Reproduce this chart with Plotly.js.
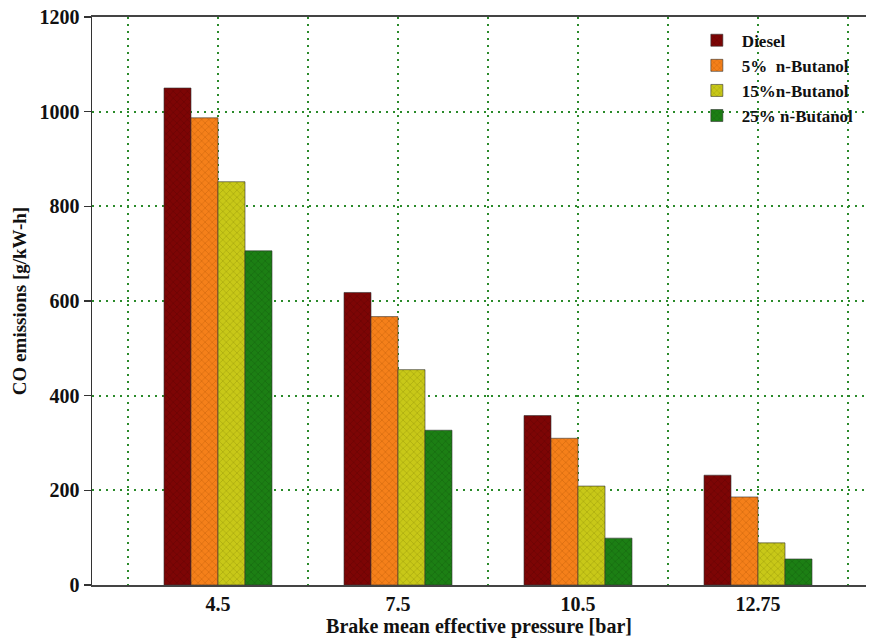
<!DOCTYPE html>
<html>
<head>
<meta charset="utf-8">
<script src="https://cdn.plot.ly/plotly-3.0.1.min.js"></script>
<style>html,body{margin:0;padding:0;background:#fff;}#chart{width:874px;height:644px;}</style>
</head>
<body>
<div id="chart"></div>
<script>
const categories = ["4.5", "7.5", "10.5", "12.75"];
const categoryPos = [0, 1, 2, 3];
const seriesNames = ["Diesel", "5%  n-Butanol", "15%n-Butanol", "25% n-Butanol"];
const diesel = [1050, 618, 358, 232];
const butanol5 = [987, 567, 310, 186];
const butanol15 = [852, 455, 209, 89];
const butanol25 = [706, 327, 99, 55];
const seriesValues = [diesel, butanol5, butanol15, butanol25];
const seriesColors = ["#7d0505", "#f5801a", "#c8c818", "#1c7f14"];
const patternColors = ["#4a0000", "#a04800", "#7a7a00", "#0c4a08"];
const yTicks = [0, 200, 400, 600, 800, 1000, 1200];

const font = "'Liberation Serif', 'Times New Roman', serif";
const gridColor = "#2a8a2a";

const traces = seriesValues.map((vals, i) => ({
  type: "bar",
  name: seriesNames[i],
  x: categoryPos,
  y: vals,
  marker: {
    color: seriesColors[i],
    line: {color: "#333", width: 0.6},
    pattern: {shape: "x", fillmode: "overlay", bgcolor: seriesColors[i], fgcolor: patternColors[i], size: 5, solidity: 0.2}
  }
}));

const layout = {
  width: 874, height: 644,
  margin: {l: 92, r: 8, t: 17, b: 59},
  paper_bgcolor: "#fff", plot_bgcolor: "#fff",
  barmode: "group", bargap: 0.4, bargroupgap: 0,
  font: {family: font, color: "#111", size: 16},
  showlegend: true,
  legend: {
    x: 0.775, y: 0.99, xanchor: "left", yanchor: "top",
    bgcolor: "rgba(0,0,0,0)", borderwidth: 0,
    font: {family: font, size: 17, color: "#111", weight: "bold"},
    tracegroupgap: 0, itemwidth: 40
  },
  xaxis: {
    range: [-0.7, 3.6],
    tickmode: "array", tickvals: categoryPos, ticktext: categories,
    ticks: "", showline: true, linecolor: "#444", linewidth: 2,
    mirror: true,
    showgrid: true, gridcolor: gridColor, griddash: "2px,5px", gridwidth: 2,
    minor: {tick0: -0.5, dtick: 1, showgrid: true, gridcolor: gridColor, griddash: "2px,5px", gridwidth: 2, ticks: ""},
    zeroline: false,
    tickfont: {family: font, size: 20, weight: "bold"},
    title: {text: "Brake mean effective pressure [bar]", font: {family: font, size: 20, weight: "bold"}, standoff: 4}
  },
  yaxis: {
    range: [0, 1200],
    tickmode: "array", tickvals: yTicks,
    ticks: "outside", ticklen: 7, tickcolor: "#333", tickwidth: 1.5,
    showline: true, linecolor: "#333", linewidth: 1.5,
    showgrid: true, gridcolor: gridColor, griddash: "2px,5px", gridwidth: 2,
    zeroline: false,
    tickfont: {family: font, size: 20, weight: "bold"},
    title: {text: "CO emissions [g/kW-h]", font: {family: font, size: 19, weight: "bold"}, standoff: 8}
  }
};

Plotly.newPlot("chart", traces, layout, {displayModeBar: false, staticPlot: true});
</script>
</body>
</html>
